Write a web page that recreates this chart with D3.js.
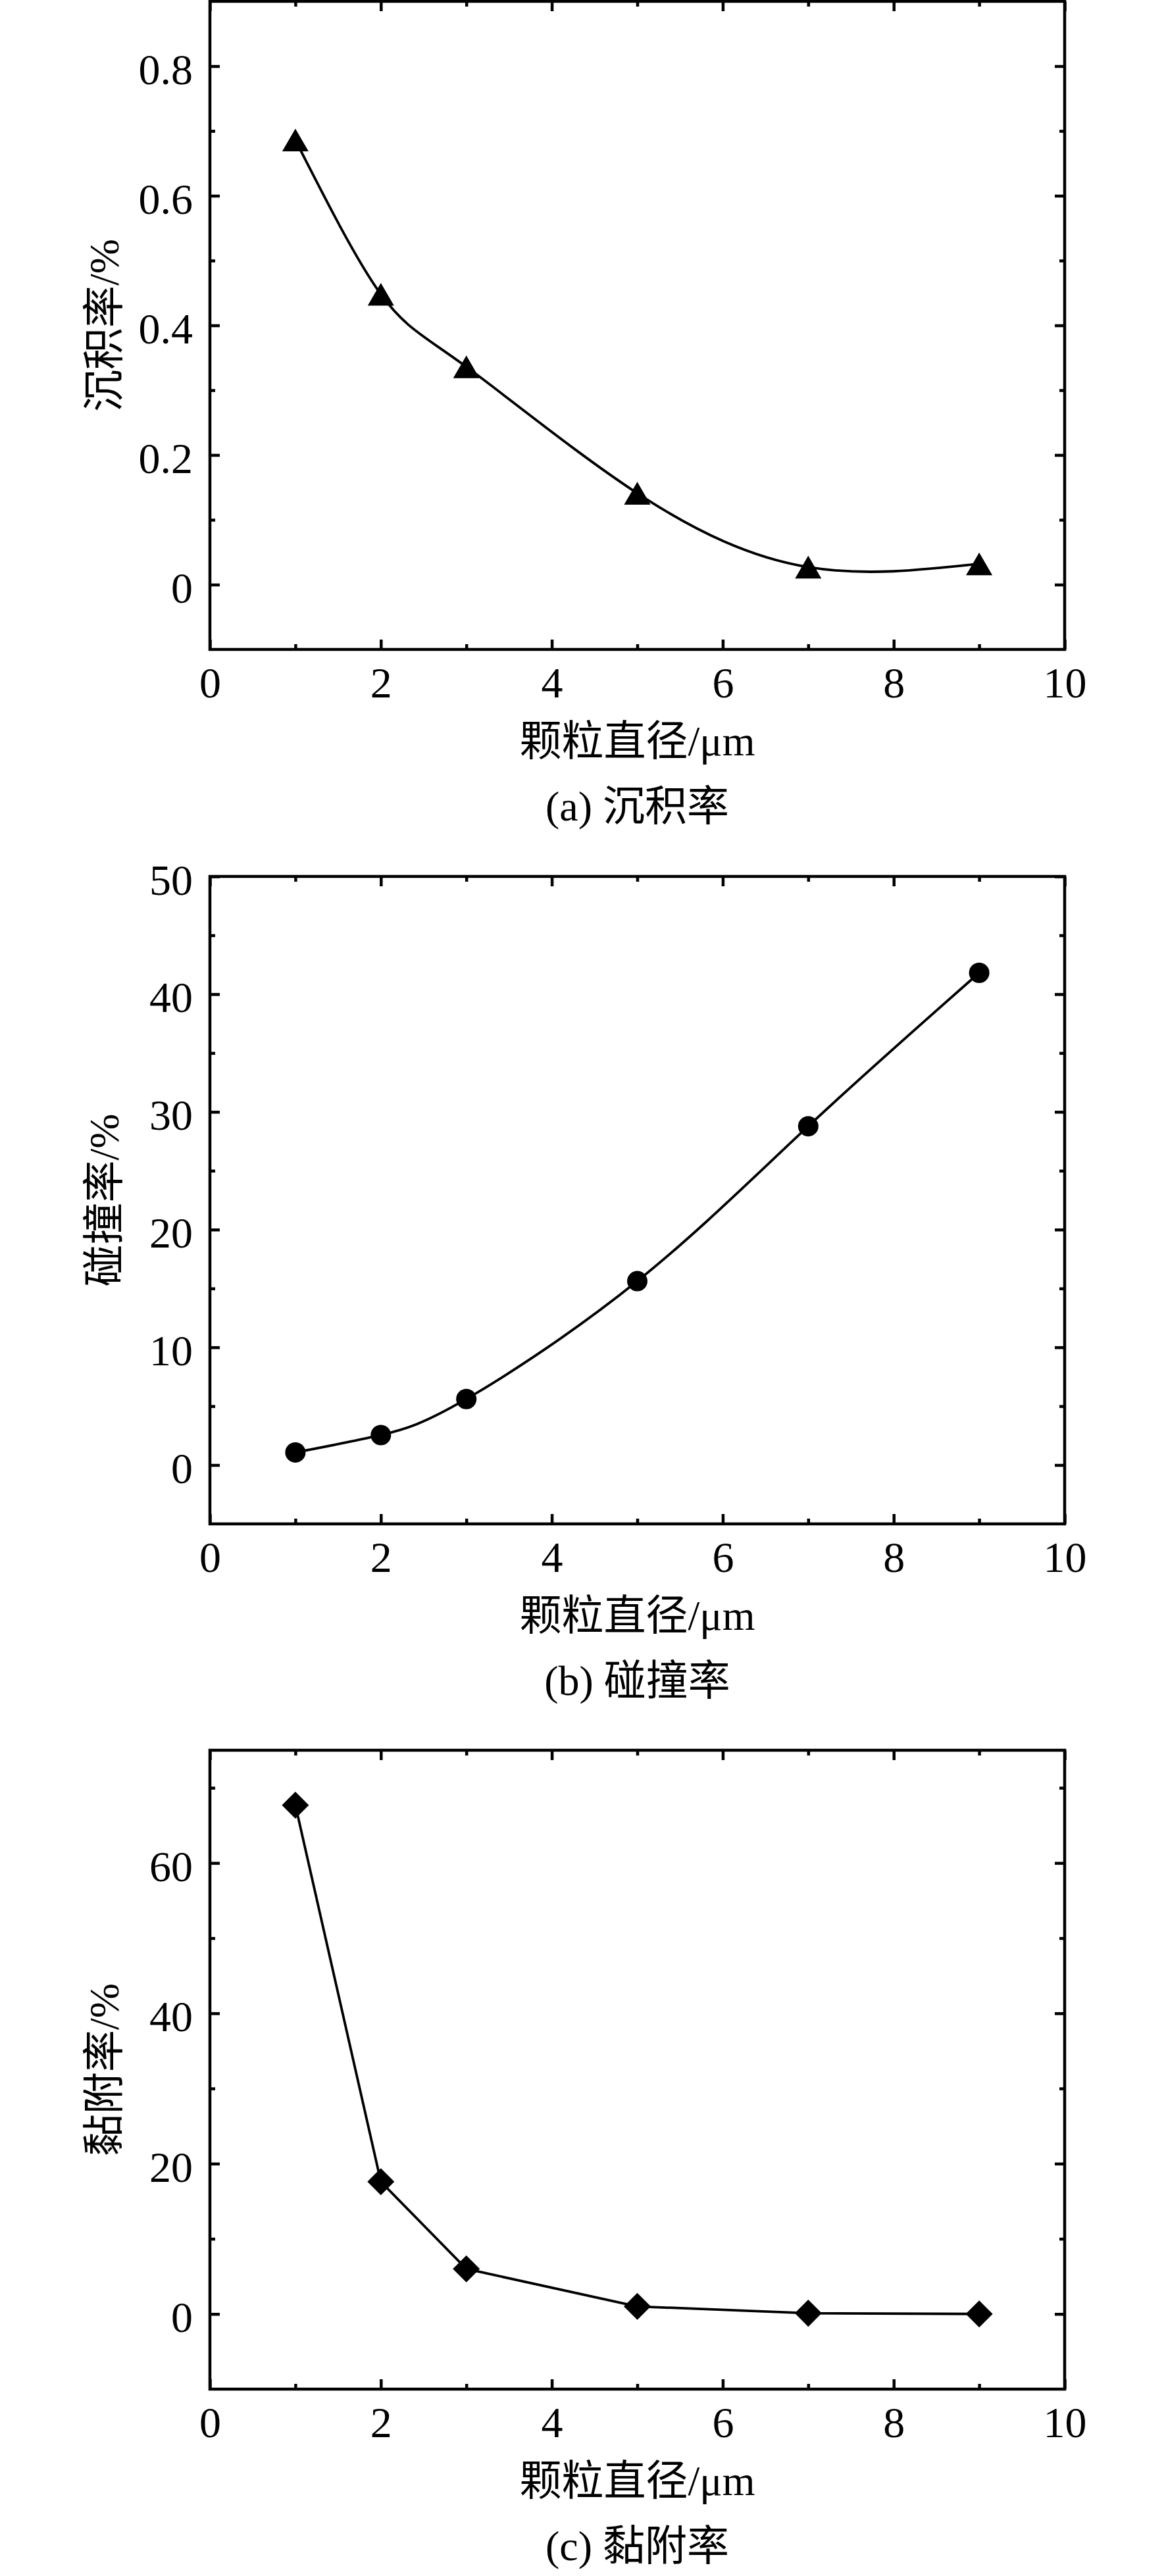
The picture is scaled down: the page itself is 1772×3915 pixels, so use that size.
<html>
<head>
<meta charset="utf-8">
<script src="https://cdn.jsdelivr.net/npm/d3@7"></script>
<style>
  body { margin: 0; background: #fff; }
  text { font-family: "Liberation Serif", "Times New Roman", "Noto Sans CJK SC", serif; fill: #000; }
</style>
</head>
<body>
<div id="output"></div>
<script>
// particle diameter (um)
var diameters = [1, 2, 3, 5, 7, 9];
// (a) deposition, (b) collision, (c) adhesion rate, %
var depositionRate = [0.686, 0.448, 0.336, 0.141, 0.027, 0.032];
var collisionRate = [1.07, 2.55, 5.61, 15.62, 28.78, 41.81];
var adhesionRate = [67.7, 17.6, 6.0, 1.0, 0.1, 0.0];

// ticks
var xMajorTicks = [0, 2, 4, 6, 8, 10];
var xMinorTicks = [1, 3, 5, 7, 9];
var aMajorTicks = [0, 0.2, 0.4, 0.6, 0.8];
var aMinorTicks = [0.1, 0.3, 0.5, 0.7];
var bMajorTicks = [0, 10, 20, 30, 40, 50];
var bMinorTicks = [5, 15, 25, 35, 45];
var cMajorTicks = [0, 20, 40, 60];
var cMinorTicks = [10, 30, 50, 70];

var xLabel = "颗粒直径/μm";
var yLabels = ["沉积率/%", "碰撞率/%", "黏附率/%"];
var captions = ["(a) 沉积率", "(b) 碰撞率", "(c) 黏附率"];

var W = 1772, H = 3915;
var left = 319, right = 1618;

var svg = d3.select("#output")
  .append("svg")
  .attr("width", W)
  .attr("height", H);
svg.append("rect").attr("width", W).attr("height", H).attr("fill", "#fff");

var x = d3.scaleLinear().domain([0, 10]).range([left, right]);

drawPanel({
  top: 2, bottom: 987, domain: [-0.1, 0.9],
  values: depositionRate, major: aMajorTicks, minor: aMinorTicks,
  curve: d3.curveNatural, marker: "triangle",
  yLabel: yLabels[0], caption: captions[0]
});
drawPanel({
  top: 1332, bottom: 2316, domain: [-5, 50],
  values: collisionRate, major: bMajorTicks, minor: bMinorTicks,
  curve: d3.curveNatural, marker: "circle",
  yLabel: yLabels[1], caption: captions[1]
});
drawPanel({
  top: 2660, bottom: 3631, domain: [-10, 75],
  values: adhesionRate, major: cMajorTicks, minor: cMinorTicks,
  curve: d3.curveLinear, marker: "diamond",
  yLabel: yLabels[2], caption: captions[2]
});

function drawPanel(p) {
  var y = d3.scaleLinear().domain(p.domain).range([p.bottom, p.top]);
  var g = svg.append("g");

  // inward ticks on all four sides
  var axes = [
    [d3.axisBottom(x), "translate(0," + p.bottom + ")", xMajorTicks, xMinorTicks, true],
    [d3.axisTop(x), "translate(0," + p.top + ")", xMajorTicks, xMinorTicks, false],
    [d3.axisLeft(y), "translate(" + left + ",0)", p.major, p.minor, true],
    [d3.axisRight(y), "translate(" + right + ",0)", p.major, p.minor, false]
  ];
  axes.forEach(function (a) {
    var major = g.append("g").attr("transform", a[1])
      .call(a[0].tickValues(a[2]).tickSize(-15).tickPadding(26)
        .tickFormat(a[4] ? function (d) { return String(d); } : ""));
    major.select(".domain").remove();
    major.selectAll("line").attr("stroke", "#000").attr("stroke-width", 4.5);
    major.selectAll("text").style("font-size", "66px").attr("fill", "#000");
    var minor = g.append("g").attr("transform", a[1])
      .call(a[0].tickValues(a[3]).tickSize(-8).tickFormat(""));
    minor.select(".domain").remove();
    minor.selectAll("line").attr("stroke", "#000").attr("stroke-width", 4.5);
  });
  g.selectAll("text").filter(function () {
    return this.parentNode.parentNode.getAttribute("transform") === "translate(" + left + ",0)";
  }).attr("dy", "0.41em");

  // frame
  g.append("rect")
    .attr("x", left).attr("y", p.top)
    .attr("width", right - left).attr("height", p.bottom - p.top)
    .attr("fill", "none").attr("stroke", "#000").attr("stroke-width", 4.5);

  var pts = diameters.map(function (d, i) { return [d, p.values[i]]; });

  var line = d3.line()
    .x(function (d) { return x(d[0]); })
    .y(function (d) { return y(d[1]); })
    .curve(p.curve);
  g.append("path")
    .attr("d", line(pts))
    .attr("fill", "none")
    .attr("stroke", "#000")
    .attr("stroke-width", 3.8);

  var sym, rot = 0, shift = 0;
  if (p.marker === "triangle") {
    sym = d3.symbol(d3.symbolTriangle).size(693);
    shift = Math.sqrt(693 / (Math.sqrt(3) * 3)) / 2;
  } else if (p.marker === "circle") {
    sym = d3.symbol(d3.symbolCircle).size(Math.PI * 15.5 * 15.5);
  } else {
    sym = d3.symbol(d3.symbolSquare).size(841);
    rot = 45;
  }
  g.selectAll("path.mk")
    .data(pts)
    .enter().append("path")
    .attr("class", "mk")
    .attr("d", sym)
    .attr("fill", "#000")
    .attr("transform", function (d) {
      return "translate(" + x(d[0]) + "," + (y(d[1]) + shift) + ") rotate(" + rot + ")";
    });

  // axis titles
  svg.append("text")
    .attr("transform", "translate(180," + (p.top + p.bottom) / 2 + ") rotate(-90)")
    .attr("text-anchor", "middle")
    .style("font-size", "64px")
    .text(p.yLabel);
  svg.append("text")
    .attr("x", (left + right) / 2)
    .attr("y", p.bottom + 161)
    .attr("text-anchor", "middle")
    .style("font-size", "64px")
    .text(xLabel);
  svg.append("text")
    .attr("x", (left + right) / 2)
    .attr("y", p.bottom + 260)
    .attr("text-anchor", "middle")
    .style("font-size", "64px")
    .text(p.caption);
}
</script>
</body>
</html>
